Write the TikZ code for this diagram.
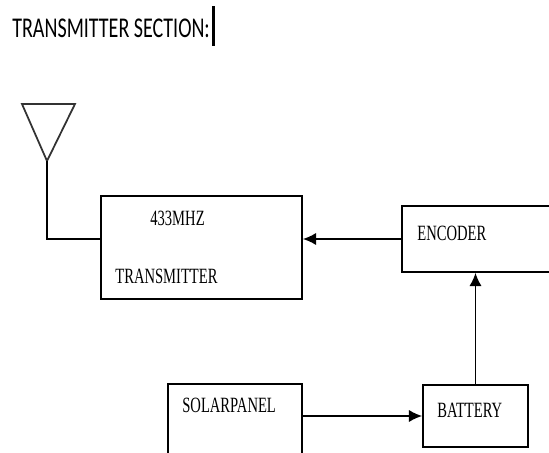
\documentclass[tikz,border=0pt]{standalone}
\usepackage{fontspec}
\usepackage{tikz}
\usetikzlibrary{arrows.meta}
\newfontfamily\titlefont[FakeStretch=0.70]{Carlito}
\newfontfamily\boxfont[FakeStretch=0.67]{Liberation Serif}

\tikzset{
	block/.style={draw, line width=1pt, inner sep=0pt},
	lbl/.style={anchor=base west, inner sep=0pt, font=\boxfont\fontsize{12.4}{14}\selectfont},
	flow/.style={line width=1pt, -{Latex[length=7.5pt,width=7pt]}}
}

\begin{document}
\begin{tikzpicture}[x=0.02cm, y=-0.02cm]
	\useasboundingbox (0,0) rectangle (549,453);
	\clip (0,0) rectangle (549,453);

	% Title
	\node[anchor=base west, inner sep=0pt, font=\titlefont\fontsize{16.3}{18}\selectfont] (title) at (12,37) {TRANSMITTER SECTION:};
	\fill (title.base east) ++(2,9) rectangle ++(3,-40);

	% Blocks
	\node[block, minimum width=4.02cm, minimum height=2.06cm] (tx) at (201.5,247.5) {};
	\node[block, minimum width=3.06cm, minimum height=1.32cm] (enc) at (478.5,239) {};
	\node[block, minimum width=2.68cm, minimum height=1.72cm] (sol) at (235,427) {};
	\node[block, minimum width=2.1cm, minimum height=1.24cm] (bat) at (475.5,416) {};

	% Labels
	\node[lbl] (txa) at (150,226) {433MHZ};
	\node[lbl] (txb) at (115,283) {TRANSMITTER};
	\node[lbl] (enct) at (417,240) {ENCODER};
	\node[lbl] (solt) at (182,413) {SOLARPANEL};
	\node[lbl] (batt) at (437,418) {BATTERY};

	% Antenna
	\coordinate (ant) at (47,161);
	\draw[line width=1pt, draw=black!80] (22,104) -- (75,104) -- (ant) -- cycle;
	\draw[line width=1pt] (ant) |- (tx.west |- enc.west);

	% Arrows
	\draw[flow] (enc.west) -- (enc.west -| tx.east);
	\draw[flow] (bat.north) -- (bat.north |- enc.south);
	\draw[flow] (sol.east |- bat.west) -- (bat.west);
\end{tikzpicture}
\end{document}
